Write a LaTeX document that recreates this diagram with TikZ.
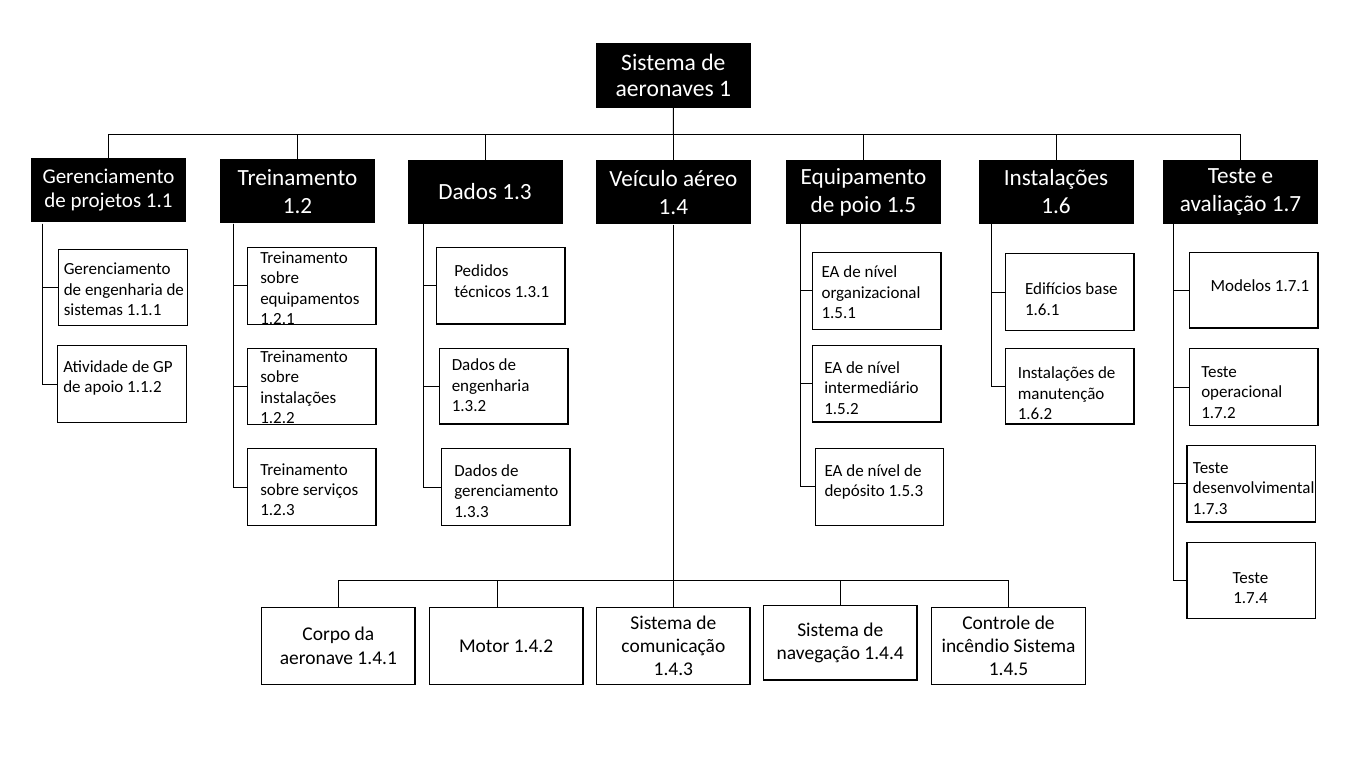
\documentclass[tikz,border=0pt]{standalone}
\usepackage{fontspec}
\setmainfont{Carlito}
\usetikzlibrary{fit}

\begin{document}
\begin{tikzpicture}[x=0.75pt,y=0.75pt,yscale=-1,xscale=1,
  topbox/.style={fill=black, text=white, inner sep=0pt, align=center, minimum width=116pt, minimum height=48.3pt, font=\fontsize{17.7}{20}\selectfont},
  areabox/.style={fill=black, text=white, inner sep=0pt, align=center, minimum width=116.25pt, minimum height=48.2pt, font=\fontsize{17.4}{21}\selectfont},
  subbox/.style={draw=black, line width=1pt, inner sep=0pt},
  subtxt/.style={inner sep=0pt, align=left, anchor=west, font=\fontsize{12.75}{15.3}\selectfont},
  partbox/.style={draw=black, line width=1pt, inner sep=0pt, align=center, minimum width=115.1pt, minimum height=57.75pt, font=\fontsize{14.6}{17.3}\selectfont},
  link/.style={line width=0.75pt}]
%set diagram size
\useasboundingbox (0,0) rectangle (1350,767);

%Shape: Root
\node[topbox] (root) at (673.35,75.5) {Sistema de\\aeronaves 1};

%Shape: Level 1
\node[areabox, font=\fontsize{15.75}{18.2}\selectfont] (l11) at (108.5,190.2) {Gerenciamento\\de projetos 1.1};
\node[areabox] (l12) at (297.5,191.3) {Treinamento\\1.2};
\node[areabox] (l13) at (485,192) {Dados 1.3};
\node[areabox] (l14) at (673.35,192.2) {Veículo aéreo\\1.4};
\node[areabox] (l15) at (863.5,192.2) {Equipamento\\de poio 1.5};
\node[areabox] (l16) at (1056,192) {Instalações\\1.6};
\node[areabox] (l17) at (1240.5,192) {Teste e\\avaliação 1.7};

%Straight Lines: root to level 1
\coordinate (bus) at (673.3,134.3);
\draw[link] (root.south) -- (bus);
\draw[link] (l11.north |- bus) -- (l17.north |- bus);
\foreach \n in {l11,l12,l13,l14,l15,l16,l17}
  \draw[link] (\n.north |- bus) -- (\n.north);

%Shape: Rectangle 1.1.x
\node[subbox, fit={(58.5,249.3) (187.3,325.3)}] (b111) {};
\node[subbox, fit={(57.7,345.7) (186.5,422.3)}] (b112) {};
%Shape: Rectangle 1.2.x
\node[subbox, fit={(247.7,247.3) (376,324.3)}] (b121) {};
\node[subbox, fit={(247.7,348.3) (376,424.3)}] (b122) {};
\node[subbox, fit={(247.7,448.7) (376,525.3)}] (b123) {};
%Shape: Rectangle 1.3.x
\node[subbox, fit={(436.5,247.3) (565,324)}] (b131) {};
\node[subbox, fit={(439.6,348.3) (568,424)}] (b132) {};
\node[subbox, fit={(441.5,448.7) (570,525.3)}] (b133) {};
%Shape: Rectangle 1.5.x
\node[subbox, fit={(812.5,252.3) (941,329.3)}] (b151) {};
\node[subbox, fit={(812.5,345.3) (941,422)}] (b152) {};
\node[subbox, fit={(815.7,448.3) (943.3,525.3)}] (b153) {};
%Shape: Rectangle 1.6.x
\node[subbox, fit={(1005.4,253.7) (1134,330.3)}] (b161) {};
\node[subbox, fit={(1005.4,348.7) (1134,424)}] (b162) {};
%Shape: Rectangle 1.7.x
\node[subbox, fit={(1189.6,252.7) (1318,328)}] (b171) {};
\node[subbox, fit={(1189.6,348.7) (1318,425.3)}] (b172) {};
\node[subbox, fit={(1187,445.7) (1315.7,522)}] (b173) {};
\node[subbox, fit={(1187,542.7) (1315.7,618.3)}] (b174) {};

%Straight Lines: level 1 to side boxes
\coordinate (s11) at (42.5,223.5);
\coordinate (s12) at (233,223.5);
\coordinate (s13) at (423,224);
\coordinate (s15) at (800,224.3);
\coordinate (s16) at (991,224);
\coordinate (s17) at (1173.5,224);
\foreach \b in {b111,b112} \draw[link] (s11) |- (\b.west);
\foreach \b in {b121,b122,b123} \draw[link] (s12) |- (\b.west);
\foreach \b in {b131,b132,b133} \draw[link] (s13) |- (\b.west);
\foreach \b in {b151,b152,b153} \draw[link] (s15) |- (\b.west);
\foreach \b in {b161,b162} \draw[link] (s16) |- (\b.west);
\foreach \b in {b171,b172,b173,b174} \draw[link] (s17) |- (\b.west);

% Text Node
\node[subtxt] (t111) at (63.5,289.3) {Gerenciamento\\de engenharia de\\sistemas 1.1.1};
% Text Node
\node[subtxt] (t112) at (63,377.8) {Atividade de GP\\de apoio 1.1.2};
% Text Node
\node[subtxt] (t121) at (260,288.3) {Treinamento\\sobre\\equipamentos\\1.2.1};
% Text Node
\node[subtxt] (t122) at (260,387.2) {Treinamento\\sobre\\instalações\\1.2.2};
% Text Node
\node[subtxt] (t123) at (260,489.8) {Treinamento\\sobre serviços\\1.2.3};
% Text Node
\node[subtxt] (t131) at (454,281) {Pedidos\\técnicos 1.3.1};
% Text Node
\node[subtxt] (t132) at (451.5,385.2) {Dados de\\engenharia\\1.3.2};
% Text Node
\node[subtxt] (t133) at (454,491) {Dados de\\gerenciamento\\1.3.3};
% Text Node
\node[subtxt] (t151) at (821.3,292.2) {EA de nível\\organizacional\\1.5.1};
% Text Node
\node[subtxt] (t152) at (824,388) {EA de nível\\intermediário\\1.5.2};
% Text Node
\node[subtxt] (t153) at (824.3,482.2) {EA de nível de\\depósito 1.5.3};
% Text Node
\node[subtxt] (t161) at (1024.8,299.3) {Edifícios base\\1.6.1};
% Text Node
\node[subtxt] (t162) at (1017.5,393.2) {Instalações de\\manutenção\\1.6.2};
% Text Node
\node[subtxt] (t171) at (1210.4,286) {Modelos 1.7.1};
% Text Node
\node[subtxt] (t172) at (1201,392.5) {Teste\\operacional\\1.7.2};
% Text Node
\node[subtxt] (t173) at (1192.7,488.3) {Teste\\desenvolvimental\\1.7.3};
% Text Node
\node[subtxt, anchor=center, align=center] (t174) at (1250.5,588.2) {Teste\\1.7.4};

%Shape: Rectangle 1.4.x
\node[partbox] (b141) at (338.35,645.8) {Corpo da\\aeronave 1.4.1};
\node[partbox] (b142) at (506.15,645.8) {Motor 1.4.2};
\node[partbox] (b143) at (673.35,645.8) {Sistema de\\comunicação\\1.4.3};
\node[partbox, minimum height=55.7pt] (b144) at (840.3,642.85) {Sistema de\\navegação 1.4.4};
\node[partbox] (b145) at (1008.5,645.8) {Controle de\\incêndio Sistema\\1.4.5};

%Straight Lines: 1.4 to its parts
\coordinate (bus4) at (673.3,580);
\draw[link] (l14.south) -- (l14.south |- bus4);
\draw[link] (b141.north |- bus4) -- (b145.north |- bus4);
\foreach \n in {b141,b143,b144,b145}
  \draw[link] (\n.north |- bus4) -- (\n.north);
\draw[link] ([xshift=-6.5pt]b142.north |- bus4) -- ([xshift=-6.5pt]b142.north);

\end{tikzpicture}
\end{document}
